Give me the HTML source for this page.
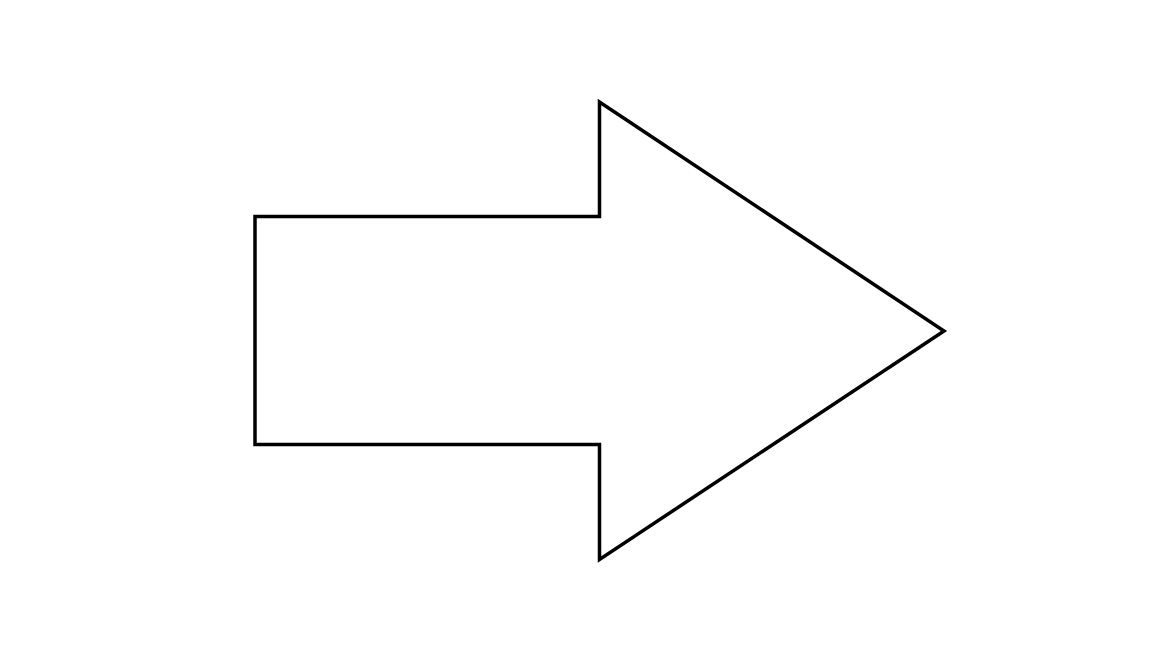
<!DOCTYPE html>
<html>
<head>
<meta charset="utf-8">
<style>
html,body{margin:0;padding:0;background:#fff;width:1152px;height:648px;overflow:hidden;}
svg{display:block;}
</style>
</head>
<body>
<svg width="1152" height="648" viewBox="0 0 1152 648">
  <polygon
    points="255,216.5 599.5,216.5 599.5,102 944,331 599.5,559.5 599.5,444.5 255,444.5"
    fill="#ffffff" stroke="#000000" stroke-width="3.5" stroke-linejoin="miter"/>
</svg>
</body>
</html>
